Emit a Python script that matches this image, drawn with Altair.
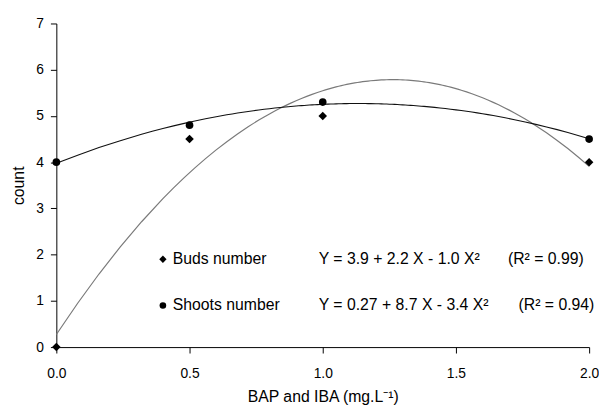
import altair as alt
import pandas as pd

# ---- data ----
doses = [0.0, 0.5, 1.0, 2.0]
buds_number = [0.0, 4.5, 5.0, 4.0]      # diamond markers
shoots_number = [4.0, 4.8, 5.3, 4.5]    # circle markers
series_names = ["Buds number", "Shoots number"]
equations = ["Y = 3.9 + 2.2 X - 1.0 X²", "Y = 0.27 + 8.7 X - 3.4 X²"]
r2_texts = ["(R² = 0.99)", "(R² = 0.94)"]
x_ticks = [0.0, 0.5, 1.0, 1.5, 2.0]
y_ticks = [0, 1, 2, 3, 4, 5, 6, 7]

df = pd.DataFrame({
    "dose": doses + doses,
    "count": buds_number + shoots_number,
    "series": [series_names[0]] * len(doses) + [series_names[1]] * len(doses),
})

FONT = "Liberation Sans"

x_enc = alt.X("dose:Q", scale=alt.Scale(domain=[0, 2], nice=False),
              axis=alt.Axis(values=x_ticks, format=".1f", title="BAP and IBA (mg.L⁻¹)",
                            titlePadding=8, labelPadding=14, labelFlush=False))
y_enc = alt.Y("count:Q", scale=alt.Scale(domain=[0, 7], nice=False),
              axis=alt.Axis(values=y_ticks, format="d", title="count",
                            titlePadding=10, labelPadding=7, labelFlush=False))

base = alt.Chart(df)

fit_buds = base.transform_filter(alt.datum.series == series_names[0]).transform_regression(
    "dose", "count", method="poly", order=2, extent=[0, 2]
).mark_line(color="#7a7a7a", strokeWidth=1.2).encode(x=x_enc, y=y_enc)

fit_shoots = base.transform_filter(alt.datum.series == series_names[1]).transform_regression(
    "dose", "count", method="poly", order=2, extent=[0, 2]
).mark_line(color="#111111", strokeWidth=1.1).encode(x=x_enc, y=y_enc)

pts_buds = base.transform_filter(alt.datum.series == series_names[0]).mark_point(
    shape="diamond", filled=True, size=75, color="black", opacity=1
).encode(x=x_enc, y=y_enc)

pts_shoots = base.transform_filter(alt.datum.series == series_names[1]).mark_point(
    shape="circle", filled=True, size=60, color="black", opacity=1
).encode(x=x_enc, y=y_enc)

# legend-like annotations (placed in plot space)
leg_df = pd.DataFrame({"name": series_names, "eq": equations, "r2": r2_texts,
                       "row": [0, 1]})
leg = alt.Chart(leg_df).transform_calculate(
    ly="datum.row == 0 ? 1.90 : 0.90",
    mx="0.40", nx="0.437", ex="0.985",
    rx="datum.row == 0 ? 1.695 : 1.735",
)
ly = alt.Y("ly:Q")
txt = dict(align="left", baseline="middle", font=FONT, fontSize=16, color="black")

leg_diamond = leg.transform_filter(alt.datum.row == 0).mark_point(
    shape="diamond", filled=True, size=55, color="black", opacity=1
).encode(x=alt.X("mx:Q"), y=ly)
leg_circle = leg.transform_filter(alt.datum.row == 1).mark_point(
    shape="circle", filled=True, size=45, color="black", opacity=1
).encode(x=alt.X("mx:Q"), y=ly)
leg_name = leg.mark_text(**txt).encode(x=alt.X("nx:Q"), y=ly, text="name:N")
leg_eq = leg.mark_text(**txt).encode(x=alt.X("ex:Q"), y=ly, text="eq:N")
leg_r2 = leg.mark_text(**txt).encode(x=alt.X("rx:Q"), y=ly, text="r2:N")

chart = alt.layer(
    fit_buds, fit_shoots, pts_buds, pts_shoots,
    leg_diamond, leg_circle, leg_name, leg_eq, leg_r2
).properties(
    width=540, height=328,
    autosize=alt.AutoSizeParams(type="none"),
    padding={"left": 49, "top": 13, "right": 10, "bottom": 56},
).configure_view(stroke=None).configure_axis(
    grid=False, domainColor="black", tickColor="black", tickSize=6,
    labelFont=FONT, labelFontSize=14, labelColor="black",
    titleFont=FONT, titleFontSize=16, titleFontWeight="normal", titleColor="black",
    domainWidth=1, tickWidth=1,
)

chart.save("out.html", embed_options={"renderer": "svg", "actions": False})
